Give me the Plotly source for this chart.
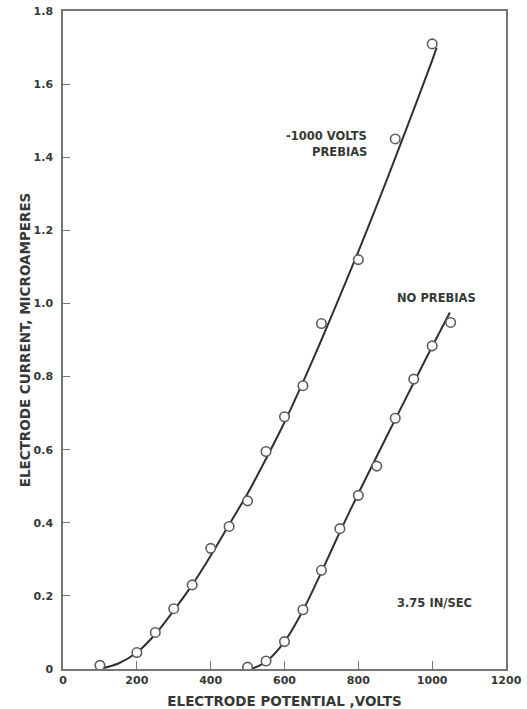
import plotly.graph_objects as go

# Measured points
prebias_x = [100, 200, 250, 300, 350, 400, 450, 500, 550, 600, 650, 700, 800, 900, 1000]
prebias_y = [0.01, 0.045, 0.10, 0.165, 0.23, 0.33, 0.39, 0.46, 0.595, 0.69, 0.775, 0.945, 1.12, 1.45, 1.71]

noprebias_x = [500, 550, 600, 650, 700, 750, 800, 850, 900, 950, 1000, 1050]
noprebias_y = [0.005, 0.022, 0.075, 0.162, 0.27, 0.384, 0.475, 0.555, 0.686, 0.793, 0.884, 0.948]

# Hand-drawn fitted curves
prebias_curve_x = [100, 150, 200, 250, 300, 350, 400, 450, 500, 550, 600, 650, 700, 750, 800, 850, 900, 950, 1000, 1012]
prebias_curve_y = [0.0, 0.015, 0.045, 0.095, 0.16, 0.23, 0.31, 0.395, 0.48, 0.575, 0.675, 0.785, 0.90, 1.02, 1.142, 1.268, 1.398, 1.53, 1.665, 1.70]

noprebias_curve_x = [510, 550, 600, 650, 700, 750, 800, 850, 900, 950, 1000, 1048]
noprebias_curve_y = [0.0, 0.02, 0.075, 0.16, 0.265, 0.375, 0.48, 0.582, 0.683, 0.783, 0.882, 0.975]

x_ticks = [0, 200, 400, 600, 800, 1000, 1200]
y_ticks = [0, 0.2, 0.4, 0.6, 0.8, 1.0, 1.2, 1.4, 1.6, 1.8]
y_ticktext = ["0", "0.2", "0.4", "0.6", "0.8", "1.0", "1.2", "1.4", "1.6", "1.8"]

ink = "#353935"
frame = "#737873"
font_family = "DejaVu Sans"
label_font = dict(family=font_family, size=11.5, color=ink, weight="bold")

fig = go.Figure()
for cx, cy in [(prebias_curve_x, prebias_curve_y), (noprebias_curve_x, noprebias_curve_y)]:
    fig.add_trace(go.Scatter(x=cx, y=cy, mode="lines",
                             line=dict(color="#2e322e", width=2, shape="spline", smoothing=0.8),
                             hoverinfo="skip", showlegend=False))
for px, py in [(prebias_x, prebias_y), (noprebias_x, noprebias_y)]:
    fig.add_trace(go.Scatter(x=px, y=py, mode="markers",
                             marker=dict(symbol="circle", size=9.5, color="white",
                                         line=dict(color="#5a5f5a", width=1.6)),
                             showlegend=False))

fig.add_annotation(x=830, y=1.459, text="-1000 VOLTS", showarrow=False, xanchor="right", font=label_font)
fig.add_annotation(x=830, y=1.413, text="PREBIAS", showarrow=False, xanchor="right", font=label_font)
fig.add_annotation(x=1011, y=1.014, text="NO PREBIAS", showarrow=False, font=label_font)
fig.add_annotation(x=1007, y=0.18, text="3.75 IN/SEC", showarrow=False, font=label_font)

tick_font = dict(family=font_family, size=11, color=ink, weight="bold")
title_font = dict(family=font_family, size=13.5, color=ink, weight="bold")

fig.update_layout(
    width=527, height=709,
    margin=dict(l=63, r=21, t=11, b=40),
    paper_bgcolor="white", plot_bgcolor="white",
    font=dict(family=font_family, color=ink),
    xaxis=dict(range=[0, 1200], tickvals=x_ticks, ticks="inside", ticklen=8, tickwidth=1.2,
               tickcolor=frame, showgrid=False, zeroline=False, showline=True, linecolor=frame,
               linewidth=1.5, mirror=True, tickfont=tick_font, automargin=False,
               title=dict(text="ELECTRODE POTENTIAL ,VOLTS", font=title_font, standoff=11)),
    yaxis=dict(range=[0, 1.8], tickvals=y_ticks, ticktext=y_ticktext, ticks="inside", ticklen=7,
               tickwidth=1.2, tickcolor=frame, showgrid=False, zeroline=False, showline=True,
               linecolor=frame, linewidth=1.5, mirror=True, tickfont=tick_font, ticklabelstandoff=6,
               automargin=False,
               title=dict(text="ELECTRODE CURRENT, MICROAMPERES", font=title_font, standoff=0)),
)

fig.write_html("out.html")
